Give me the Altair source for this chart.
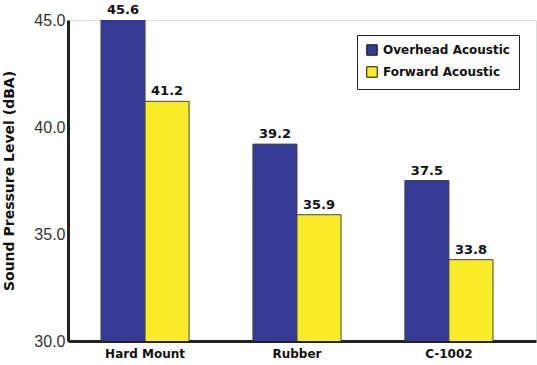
import altair as alt
import pandas as pd

categories = ["Hard Mount", "Rubber", "C-1002"]
series = ["Overhead Acoustic", "Forward Acoustic"]
overhead = [45.6, 39.2, 37.5]
forward = [41.2, 35.9, 33.8]
colors = ["#343A96", "#F8EC28"]

rows = []
for c, o, f in zip(categories, overhead, forward):
    rows.append({"cat": c, "series": series[0], "v": o})
    rows.append({"cat": c, "series": series[1], "v": f})
df = pd.DataFrame(rows)

FONT = "Liberation Sans"
BFONT = "DejaVu Sans"

x = alt.X("cat:N", sort=categories, title=None,
          scale=alt.Scale(paddingInner=0.42, paddingOuter=0.25, align=0.434),
          axis=alt.Axis(labelAngle=0, labelFont=BFONT, labelFontSize=12, labelFontWeight="bold",
                        labelColor="#111", labelPadding=7, ticks=False,
                        domainColor="#222", domainWidth=3))
xo = alt.XOffset("series:N", sort=series, scale=alt.Scale(paddingInner=0, paddingOuter=0))

base = alt.Chart(df).encode(x=x, xOffset=xo)

bars = base.mark_bar(clip=True, stroke="#444", strokeWidth=1).encode(
    y=alt.Y("v:Q", title="Sound Pressure Level (dBA)",
            scale=alt.Scale(domain=[30, 45], nice=False, zero=False),
            axis=alt.Axis(values=[30, 35, 40, 45], format=".1f", grid=False, ticks=False,
                          labelFont=FONT, labelFontSize=16, labelColor="#333", labelPadding=3,
                          titleFont=BFONT, titleFontSize=14, titleFontWeight="bold",
                          titleColor="#111", titlePadding=17,
                          domainColor="#222", domainWidth=3)),
    color=alt.Color("series:N", sort=series, scale=alt.Scale(domain=series, range=colors),
                    legend=alt.Legend(title=None, orient="none", legendX=289, legendY=15,
                                      symbolType="square", symbolSize=110,
                                      symbolStrokeColor="#111", symbolStrokeWidth=1,
                                      symbolOpacity=1,
                                      labelFont=BFONT, labelFontSize=12, labelFontWeight="bold",
                                      labelColor="#111", rowPadding=6, padding=9,
                                      strokeColor="#222", fillColor="white", labelOffset=5)),
)

labels = base.transform_calculate(
    yc="datum.v > 45 ? 45 : datum.v"
).mark_text(baseline="bottom", dy=-3, font=BFONT, fontSize=13, fontWeight="bold",
            color="#111").encode(
    y=alt.Y("yc:Q"),
    text=alt.Text("v:Q", format=".1f"),
)

chart = (bars + labels).properties(
    width=468, height=321,
    autosize=alt.AutoSizeParams(type="none"),
    padding={"left": 68, "top": 20, "right": 1, "bottom": 24},
).configure_view(stroke="#222", strokeWidth=2).configure(background="white")

chart.save("out.html", embed_options={"renderer": "svg", "actions": False})
